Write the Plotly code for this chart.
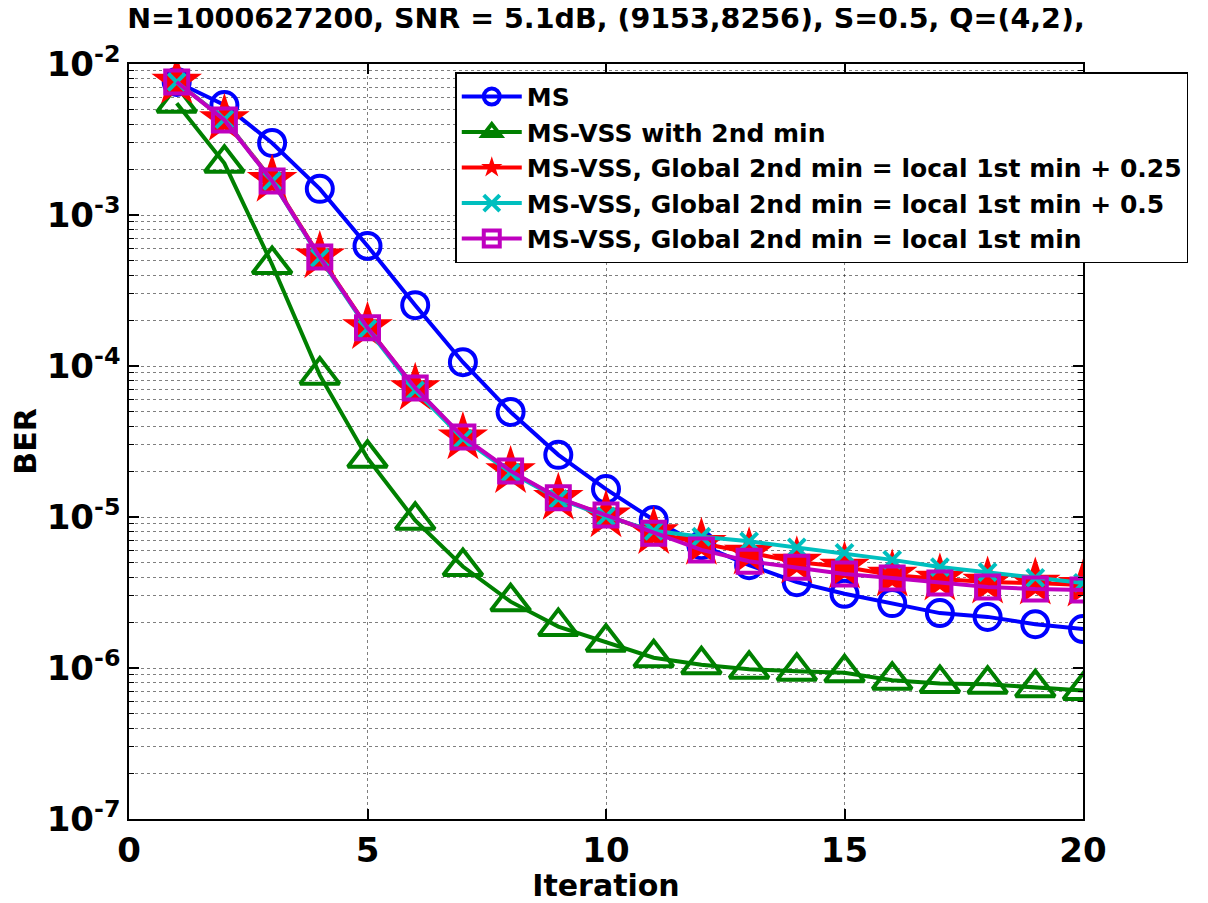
import plotly.graph_objects as go

iterations = list(range(1, 21))

ber_ms = [7.6e-3, 5.35e-3, 3.0e-3, 1.49e-3, 6.24e-4, 2.53e-4, 1.06e-4, 4.96e-5, 2.58e-5, 1.53e-5,
          9.55e-6, 6.5e-6, 4.8e-6, 3.7e-6, 3.1e-6, 2.69e-6, 2.31e-6, 2.18e-6, 1.95e-6, 1.81e-6]
ber_vss_2nd = [5.5e-3, 2.2e-3, 4.7e-4, 8.7e-5, 2.45e-5, 9.5e-6, 4.7e-6, 2.75e-6, 1.88e-6, 1.48e-6,
               1.17e-6, 1.05e-6, 0.98e-6, 0.95e-6, 0.93e-6, 0.83e-6, 0.79e-6, 0.78e-6, 0.74e-6, 0.71e-6]
ber_vss_025 = [7.6e-3, 4.3e-3, 1.7e-3, 5.3e-4, 1.8e-4, 7.1e-5, 3.35e-5, 2.0e-5, 1.33e-5, 1.02e-5,
               7.9e-6, 6.7e-6, 5.78e-6, 5.04e-6, 4.66e-6, 4.13e-6, 3.89e-6, 3.71e-6, 3.65e-6, 3.54e-6]
ber_vss_05 = [7.6e-3, 4.3e-3, 1.68e-3, 5.2e-4, 1.76e-4, 6.9e-5, 3.3e-5, 1.97e-5, 1.32e-5, 1.01e-5,
              8.1e-6, 7.4e-6, 6.9e-6, 6.3e-6, 5.78e-6, 5.2e-6, 4.66e-6, 4.32e-6, 3.95e-6, 3.66e-6]
ber_vss_0 = [7.6e-3, 4.26e-3, 1.68e-3, 5.27e-4, 1.79e-4, 7.15e-5, 3.39e-5, 2.02e-5, 1.34e-5, 1.03e-5,
             7.8e-6, 6.05e-6, 5.1e-6, 4.65e-6, 4.19e-6, 3.95e-6, 3.66e-6, 3.44e-6, 3.33e-6, 3.29e-6]

series_names = [
    "MS",
    "MS-VSS with 2nd min",
    "MS-VSS, Global 2nd min = local 1st min + 0.25",
    "MS-VSS, Global 2nd min = local 1st min + 0.5",
    "MS-VSS, Global 2nd min = local 1st min",
]

x_tickvals = [0, 5, 10, 15, 20]
x_ticktext = ["0", "5", "10", "15", "20"]
y_exponents = [-7, -6, -5, -4, -3, -2]
y_tickvals = [10.0 ** e for e in y_exponents]
y_ticktext = ["10<sup>%d</sup>" % e for e in y_exponents]
y_minor_vals = [d * 10.0 ** e for e in y_exponents[:-1] for d in range(2, 10)]

FONT = "DejaVu Sans"
FIG_W, FIG_H = 1200, 895

fig = go.Figure()

styles = [
    dict(color="#0000FF", symbol="circle-open", size=26, mlw=4),
    dict(color="#008000", symbol="triangle-up-open", size=34, mlw=4),
    dict(color="#FF0000", symbol="star", size=38, mlw=0),
    dict(color="#00BFBF", symbol="x-thin", size=17, mlw=4),
    dict(color="#BF00BF", symbol="square-open", size=23, mlw=4),
]
data = [ber_ms, ber_vss_2nd, ber_vss_025, ber_vss_05, ber_vss_0]

for name, ys, st in zip(series_names, data, styles):
    fig.add_trace(go.Scatter(
        x=iterations, y=ys, name=name, mode="lines+markers",
        line=dict(color=st["color"], width=4),
        marker=dict(symbol=st["symbol"], size=st["size"], color=st["color"],
                    line=dict(color=st["color"], width=st["mlw"])),
    ))

grid_color = "rgba(0,0,0,0.5)"

fig.update_xaxes(
    range=[0, 20], tickmode="array", tickvals=x_tickvals, ticktext=x_ticktext,
    showline=True, linecolor="black", linewidth=1.5, mirror="ticks",
    ticks="inside", ticklen=10, tickwidth=1.5, tickcolor="black",
    showgrid=True, gridcolor=grid_color, gridwidth=1, griddash="dot",
    zeroline=False, automargin=False,
    tickfont=dict(family=FONT, size=34, color="black", weight="bold"),
    title=dict(text="Iteration", font=dict(family=FONT, size=30, color="black", weight="bold"), standoff=2),
)
fig.update_yaxes(
    type="log", range=[-7, -2], tickmode="array", tickvals=y_tickvals, ticktext=y_ticktext,
    showline=True, linecolor="black", linewidth=1.5, mirror="ticks",
    ticks="inside", ticklen=10, tickwidth=1.5, tickcolor="black",
    showgrid=True, gridcolor=grid_color, gridwidth=1, griddash="dot",
    zeroline=False, automargin=False,
    minor=dict(tickmode="array", tickvals=y_minor_vals, ticks="inside", ticklen=5,
               tickcolor="black", tickwidth=1, showgrid=True, gridcolor=grid_color,
               gridwidth=1, griddash="dot"),
    tickfont=dict(family=FONT, size=34, color="black", weight="bold"),
    title=dict(text="BER", font=dict(family=FONT, size=30, color="black", weight="bold"), standoff=10),
)

fig.update_layout(
    width=FIG_W, height=FIG_H,
    margin=dict(l=121, r=125, t=56, b=84, autoexpand=False),
    plot_bgcolor="white", paper_bgcolor="white",
    title=dict(text="N=1000627200, SNR = 5.1dB, (9153,8256), S=0.5, Q=(4,2),",
               x=0.5, xref="paper", y=1, yref="container", yanchor="top", xanchor="center",
               pad=dict(t=0, b=0),
               font=dict(family=FONT, size=28.5, color="black", weight="bold")),
    legend=dict(x=0.342, y=0.989, xanchor="left", yanchor="top",
                bgcolor="white", bordercolor="black", borderwidth=1.5,
                font=dict(family=FONT, size=25, color="black", weight="bold"),
                itemwidth=60, tracegroupgap=0),
    showlegend=True,
)

fig.write_html("out.html")
